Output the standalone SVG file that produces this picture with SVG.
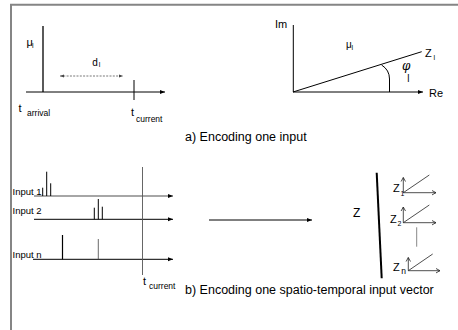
<svg xmlns="http://www.w3.org/2000/svg" width="458" height="330" viewBox="0 0 458 330">
<style>
text{font-family:"Liberation Sans",Arial,sans-serif;fill:#000}
.t10{font-size:10px}.t11{font-size:11px}.t12{font-size:12px}.cap{font-size:12.5px}
.s7{font-size:7px}.s8{font-size:8.5px}.in{font-size:9.5px}
.ln{stroke:#000;stroke-width:1;fill:none}
.gr{stroke:#808080;fill:none}
.ax{stroke:#222;stroke-width:0.8;fill:none}
</style>
<defs>
<marker id="ah" markerUnits="userSpaceOnUse" markerWidth="6" markerHeight="5" refX="5" refY="2" orient="auto-start-reverse" overflow="visible">
<path d="M0,0 L5,2 L0,4 z" fill="#000"/>
</marker>
<marker id="ahg" markerUnits="userSpaceOnUse" markerWidth="6" markerHeight="5" refX="4" refY="1.5" orient="auto-start-reverse" overflow="visible">
<path d="M0,0 L4,1.5 L0,3 z" fill="#444"/>
</marker>
<marker id="av" markerUnits="userSpaceOnUse" markerWidth="6" markerHeight="6" refX="4" refY="2.2" orient="auto" overflow="visible">
<path d="M0,0 L4,2.2 L0,4.4" fill="none" stroke="#222" stroke-width="0.8"/>
</marker>
</defs>

<g id="frame">
<path d="M11,330 V4.7 H458" stroke="#858585" stroke-width="2" fill="none"/>
</g>

<g id="connectors">
<!-- a) time axis -->
<line class="ln" x1="26" y1="92" x2="165" y2="92" marker-end="url(#ah)"/>
<line x1="60" y1="76" x2="123" y2="76" stroke="#555" stroke-width="0.8" stroke-dasharray="2,1.3" marker-start="url(#ahg)" marker-end="url(#ahg)"/>
<!-- a) complex plane -->
<line class="ln" x1="293.3" y1="25" x2="293.3" y2="92"/>
<line class="ln" x1="293" y1="92" x2="423" y2="92" marker-end="url(#ah)"/>
<line class="ln" x1="293" y1="92" x2="421.7" y2="51.7"/>
<!-- b) input axes -->
<line x1="34" y1="196" x2="173" y2="196" stroke="#888" stroke-width="1.4" marker-end="url(#ah)"/>
<line class="ln" x1="34" y1="219.3" x2="173" y2="219.3" marker-end="url(#ah)"/>
<line class="ln" x1="33" y1="259.3" x2="173" y2="259.3" marker-end="url(#ah)"/>
<!-- b) mapping arrow -->
<line class="ln" x1="209" y1="220" x2="312" y2="220" marker-end="url(#ah)"/>
<!-- b) small complex axes -->
<line class="ax" x1="403.3" y1="192.7" x2="403.3" y2="177.5" marker-end="url(#av)"/>
<line class="ax" x1="403.3" y1="192.7" x2="436" y2="192.7" marker-end="url(#av)"/>
<line class="ax" x1="403.3" y1="192.7" x2="429.3" y2="175"/>
<line class="ax" x1="403.3" y1="222.7" x2="403.3" y2="207" marker-end="url(#av)"/>
<line class="ax" x1="403.3" y1="222.7" x2="436" y2="222.7" marker-end="url(#av)"/>
<line class="ax" x1="403.3" y1="222.7" x2="429.3" y2="205"/>
<line class="ax" x1="408.3" y1="270.7" x2="408.3" y2="257.5" marker-end="url(#av)"/>
<line class="ax" x1="408.3" y1="270.7" x2="440" y2="270.7" marker-end="url(#av)"/>
<line class="ax" x1="408.3" y1="270.7" x2="432.7" y2="254"/>
</g>

<g id="encoding-time">
<line x1="43" y1="26" x2="43" y2="92" stroke="#000" stroke-width="1.3"/>
<line class="ln" x1="134" y1="80" x2="134" y2="100"/>
<text class="t11" x="26.5" y="46">μ</text><text class="s7" x="32" y="47.7">l</text>
<text class="t10" x="92.3" y="65.7">d</text><text class="s7" x="98.8" y="66.7">l</text>
<text class="t11" x="18.5" y="112">t</text><text class="s8" x="27" y="115.5">arrival</text>
<text class="t11" x="131" y="115.5">t</text><text class="s8" x="136" y="121.5">current</text>
</g>

<g id="encoding-complex">
<path class="ln" d="M381.6,65 Q389.5,70 389.5,79 L389.5,92"/>
<text class="t11" x="275" y="27.5">Im</text>
<text class="t11" x="429" y="97">Re</text>
<text class="t10" x="346" y="48">μ</text><text class="s7" x="351.5" y="49.5">l</text>
<text class="t11" x="425" y="57.3">Z</text><text class="s7" x="433.5" y="59.5">l</text>
<text x="402" y="70" style="font-family:'DejaVu Serif',serif;font-style:italic;font-size:12px">φ</text>
<text class="t10" x="407.3" y="81.7">l</text>
</g>

<g id="caption-a">
<text class="cap" x="185" y="141">a) Encoding one input</text>
</g>

<g id="inputs">
<text class="in" x="12.5" y="195">Input 1</text>
<text class="in" x="12.5" y="213.8">Input 2</text>
<text class="in" x="12.5" y="258">Input n</text>
<line class="ln" x1="42.7" y1="187.7" x2="42.7" y2="196"/>
<line class="ln" x1="46.7" y1="171.7" x2="46.7" y2="196"/>
<line class="ln" x1="50.7" y1="183.3" x2="50.7" y2="196"/>
<line class="ln" x1="94.3" y1="207.7" x2="94.3" y2="219.3"/>
<line class="ln" x1="98.3" y1="199" x2="98.3" y2="219.3"/>
<line class="ln" x1="102.3" y1="206.7" x2="102.3" y2="219.3"/>
<line x1="62.5" y1="235" x2="62.5" y2="259.3" stroke="#000" stroke-width="1.2"/>
<line x1="98.3" y1="239" x2="98.3" y2="259.3" stroke="#444" stroke-width="0.8"/>
<line x1="142.5" y1="167" x2="142.5" y2="275" stroke="#555" stroke-width="0.9"/>
<text class="t11" x="143" y="285">t</text><text class="s8" x="149" y="288.5">current</text>
</g>

<g id="vector-z">
<line x1="376.7" y1="172.7" x2="381.7" y2="278.3" stroke="#000" stroke-width="2"/>
<text class="t12" x="353" y="216.5">Z</text>
<text class="t11" x="393" y="191.7">Z</text><text class="s7" x="400.5" y="196">1</text>
<text class="t11" x="390" y="223.3">Z</text><text class="s7" x="397.5" y="226">2</text>
<text class="t11" x="393" y="271">Z</text><text class="s8" x="401.3" y="273.5">n</text>
<line x1="416.7" y1="227.3" x2="416.7" y2="246.7" stroke="#888" stroke-width="1"/>
</g>

<g id="caption-b">
<text class="cap" x="185" y="294">b) Encoding one spatio-temporal input vector</text>
</g>
</svg>
